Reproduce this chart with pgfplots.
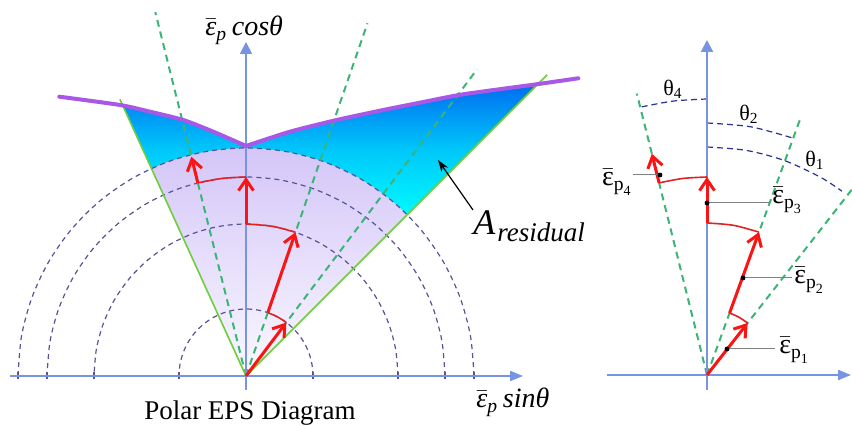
\documentclass[border=0pt]{standalone}
\usepackage{fontspec}
\setmainfont{Liberation Serif}
\usepackage{amsmath}
\usepackage{pgfplots}
\pgfplotsset{compat=1.18}
\usetikzlibrary{arrows.meta}
\definecolor{axblue}{RGB}{118,148,226}
\definecolor{circ}{RGB}{85,85,150}
\definecolor{navy}{RGB}{40,50,140}
\definecolor{gdash}{RGB}{60,180,120}
\definecolor{gsolid}{RGB}{110,205,60}
\definecolor{myred}{RGB}{250,20,20}
\definecolor{arcred}{RGB}{225,35,35}
\definecolor{mypurple}{RGB}{168,88,230}
\definecolor{lav}{RGB}{212,198,248}
\definecolor{lavlow}{RGB}{250,248,255}
\definecolor{cyanc}{RGB}{0,250,255}
\definecolor{cyanm}{RGB}{0,200,250}
\definecolor{bluet}{RGB}{0,112,240}
\pgfplotsset{base/.style={hide axis, scale only axis, width=426pt, height=213pt, at={(0,0)}, anchor=south west},
  circle/.style={circ, line width=0.6pt, dash pattern=on 2.5pt off 2pt, data cs=polar, smooth},
  gdashed/.style={gdash, line width=1pt, dash pattern=on 3.5pt off 2.5pt, data cs=polar},
  gline/.style={gsolid, line width=0.8pt, data cs=polar},
  redarrow/.style={myred, line width=1.5pt, data cs=polar, -{Straight Barb[length=5.5pt,width=7.5pt]}},
  redarc/.style={arcred, line width=0.8pt, data cs=polar, smooth},
  navyarc/.style={navy, line width=0.6pt, dash pattern=on 3pt off 2pt, data cs=polar, smooth}}
\newcommand{\epsl}[1]{\fontsize{14pt}{16pt}\selectfont $\bar{\text{ε}}_{\text{p}_{\text{#1}}}$}
\begin{document}
\begin{tikzpicture}
\useasboundingbox (0,0) rectangle (426pt,213pt);
% ================= LEFT DIAGRAM =================
\begin{axis}[base, xmin=-246, xmax=606, ymin=-50, ymax=376, clip=false]
% residual (blue) region
\addplot[draw=none, top color=bluet, bottom color=cyanc, middle color=cyanm] coordinates {(161.2,161.2) (290,290) (217.3,281.7) (174,273.3) (137.3,266) (90.7,256) (44,244.3) (0,230) (-32.7,244.3) (-62.7,256) (-96,264.3) (-122.6,269.3) (-94.6,207.5)} -- cycle;
% purple sector
\addplot[draw=none, data cs=polar, top color=lav, bottom color=lavlow] coordinates {(45,0) (45,228) (50,228) (55,228) (60,228) (65,228) (70,228) (75,228) (80,228) (85,228) (90,228) (95,228) (100,228) (105,228) (110,228) (114.5,228) (114.5,0)} -- cycle;
% dashed circles
\pgfplotsinvokeforeach{67,152,199,228}{
\addplot[circle] coordinates {(0,#1) (10,#1) (20,#1) (30,#1) (40,#1) (50,#1) (60,#1) (70,#1) (80,#1) (90,#1) (100,#1) (110,#1) (120,#1) (130,#1) (140,#1) (150,#1) (160,#1) (170,#1) (180,#1)};
}
\pgfplotsinvokeforeach{-228,-199,-152,-67,67,152,199,228}{
\addplot[circ, line width=0.7pt] coordinates {(#1,-3.5) (#1,3.5)};
}
% green dashed rays
\addplot[gdashed] coordinates {(104,0) (104,375)};
\addplot[gdashed] coordinates {(71,0) (71,373)};
\addplot[gdashed] coordinates {(53,0) (53,384)};
% green solid boundaries
\addplot[gline] coordinates {(114.5,0) (114.5,304)};
\addplot[gline] coordinates {(45,0) (45,426)};
% axes
\addplot[axblue, line width=1pt, -{Triangle[length=6.5pt,width=5pt]}] coordinates {(-236,0) (277,0)};
\addplot[axblue, line width=0.9pt, -{Triangle[length=6pt,width=6pt]}] coordinates {(0,-14) (0,334)};
% purple envelope
\addplot[mypurple, line width=2pt, smooth, tension=0.4, line cap=round] coordinates {(-186.7,279.3) (-126,271) (-96,264.3) (-62.7,256) (-32.7,244.3) (0,230)};
\addplot[mypurple, line width=2pt, smooth, tension=0.4, line cap=round] coordinates {(0,230) (44,244.3) (90.7,256) (137.3,266) (174,273.3) (217.3,281.7) (289,291.5) (332.3,297.7)};
% red path
\addplot[redarrow] coordinates {(53,0) (53,67)};
\addplot[redarc] coordinates {(53,67) (62,67) (71,67)};
\addplot[redarrow] coordinates {(71,67) (71,152)};
\addplot[redarc] coordinates {(71,152) (80,152) (90,152)};
\addplot[redarrow] coordinates {(90,152) (90,199)};
\addplot[redarc] coordinates {(90,199) (97,199) (104,199)};
\addplot[redarrow] coordinates {(104,199) (104,226)};
% A_residual pointer
\addplot[black, line width=0.6pt, -{Stealth[length=6pt,width=4pt]}] coordinates {(227,166) (192,216)};
\node[anchor=base west, inner sep=0pt] at (axis cs:227,141.7) {\fontsize{18pt}{20pt}\selectfont\itshape A};
\node[anchor=base west, inner sep=0pt] at (axis cs:251,134.3) {\fontsize{13.5pt}{16pt}\selectfont\itshape residual};
% labels
\node[anchor=base west, inner sep=0pt] at (axis cs:-41,340) {\fontsize{14pt}{16pt}\selectfont $\bar{\text{\itshape ε}}_{\text{\itshape p}}$\,\textit{cosθ}};
\node[anchor=base west, inner sep=0pt] at (axis cs:230,-32) {\fontsize{14pt}{16pt}\selectfont $\bar{\text{\itshape ε}}_{\text{\itshape p}}$\,\textit{sinθ}};
\node[anchor=base, inner sep=0pt] at (axis cs:4,-43.5) {\fontsize{13.5pt}{16pt}\selectfont Polar EPS Diagram};
\end{axis}
% ================= RIGHT DIAGRAM =================
\begin{axis}[base, xmin=-707, xmax=145, ymin=-51, ymax=375]
\addplot[gdashed] coordinates {(104,0) (104,290)};
\addplot[gdashed] coordinates {(70,0) (70,271)};
\addplot[gdashed] coordinates {(52,0) (52,250)};
\addplot[navyarc] coordinates {(90,276) (97,276) (104,276)};
\addplot[navyarc] coordinates {(90,252) (80,252) (70,252)};
\addplot[navyarc] coordinates {(90,228) (80,228) (70,228) (60,228) (53.7,228)};
\addplot[axblue, line width=1pt, -{Triangle[length=6.5pt,width=5pt]}] coordinates {(-100,0) (144,0)};
\addplot[axblue, line width=1pt, -{Triangle[length=6pt,width=6pt]}] coordinates {(0,-15) (0,335)};
\addplot[redarrow] coordinates {(52,0) (52,66)};
\addplot[redarc] coordinates {(52,66) (61,66) (70,66)};
\addplot[redarrow] coordinates {(70,66) (70,152)};
\addplot[redarc] coordinates {(70,152) (80,152) (90,152)};
\addplot[redarrow] coordinates {(90,152) (90,198)};
\addplot[redarc] coordinates {(90,198) (97,198) (104,198)};
\addplot[redarrow] coordinates {(104,198) (104,228)};
% leaders and dots
\addplot[gray, line width=0.5pt] coordinates {(20,26) (68,26)};
\addplot[gray, line width=0.5pt] coordinates {(36,97) (85,97)};
\addplot[gray, line width=0.5pt] coordinates {(0,172) (63,172)};
\addplot[gray, line width=0.5pt] coordinates {(-74,200) (-47,200)};
\addplot[only marks, mark=*, mark size=1pt, black] coordinates {(20,26) (36,97) (0,172) (-47,200)};
\node[anchor=base west, inner sep=0pt] at (axis cs:72,21) {\epsl{1}};
\node[anchor=base west, inner sep=0pt] at (axis cs:87,91) {\epsl{2}};
\node[anchor=base west, inner sep=0pt] at (axis cs:65,171) {\epsl{3}};
\node[anchor=base east, inner sep=0pt] at (axis cs:-74,189) {\epsl{4}};
\node[inner sep=0pt] at (axis cs:-34,286) {\fontsize{11pt}{13pt}\selectfont θ$_{\text{4}}$};
\node[inner sep=0pt] at (axis cs:42,261) {\fontsize{11pt}{13pt}\selectfont θ$_{\text{2}}$};
\node[inner sep=0pt] at (axis cs:108,215) {\fontsize{11pt}{13pt}\selectfont θ$_{\text{1}}$};
\end{axis}
\end{tikzpicture}
\end{document}
